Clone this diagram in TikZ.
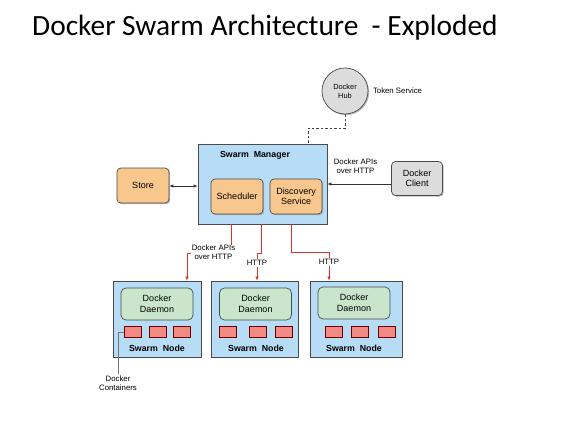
\documentclass[tikz,border=0pt]{standalone}
\usepackage{fontspec}
\setmainfont{Liberation Sans}
\newfontfamily\titlefont{Carlito}
\usetikzlibrary{arrows.meta,shadows,calc}
\definecolor{boxblue}{HTML}{B7DDF6}
\definecolor{daegreen}{HTML}{C9E6CD}
\definecolor{orng}{HTML}{F8C78E}
\definecolor{ctred}{HTML}{F28A84}
\definecolor{hubgray}{HTML}{DCDCDC}
\definecolor{edge}{HTML}{4A4A4A}
\definecolor{redline}{HTML}{D9342B}
\tikzset{
  sh/.style={drop shadow={shadow xshift=1.2pt,shadow yshift=-1.2pt,fill=black!45,opacity=0.6}},
  bluebox/.style={draw=edge,line width=0.8pt,fill=boxblue,sh,inner sep=0pt},
  orbox/.style={draw=edge,line width=0.7pt,fill=orng,rounded corners=4pt,inner sep=0pt,align=center,font=\fontsize{9}{10.5}\selectfont,sh},
  graybox/.style={draw=edge,line width=0.7pt,fill=hubgray,rounded corners=4pt,inner sep=0pt,align=center,font=\fontsize{9}{10.5}\selectfont,sh},
  daebox/.style={draw=edge,line width=0.7pt,fill=daegreen,rounded corners=5pt,inner sep=0pt,align=center,font=\fontsize{9}{11}\selectfont,minimum width=72pt,minimum height=32pt},
  ctbox/.style={draw=red!45!black,line width=0.6pt,fill=ctred,inner sep=0pt,minimum width=17pt,minimum height=11pt},
  bold/.style={font=\bfseries\fontsize{8.8}{10}\selectfont,inner sep=0pt},
  small/.style={font=\fontsize{7.8}{9}\selectfont,align=center,inner sep=1pt},
  blk/.style={-{Latex[length=4pt,width=3.5pt]},line width=0.8pt,draw=black!80},
  redarr/.style={-{Latex[length=4pt,width=3.5pt]},line width=0.7pt,draw=redline},
}
\begin{document}
\begin{tikzpicture}[x=1pt,y=-1pt]
\useasboundingbox[fill=white] (0,0) rectangle (577,423);
\node[anchor=base west,inner sep=0pt,font=\titlefont\fontsize{29.4}{33}\selectfont] (title) at (32,35) {Docker Swarm Architecture\ \ - Exploded};
% manager
\node[bluebox,minimum width=129pt,minimum height=80pt] (mgr) at (262.5,184) {};
\node[bold] (mgrl) at (255,155) {Swarm\ \ Manager};
\node[orbox,minimum width=52pt,minimum height=35pt] (sched) at (237,196.5) {Scheduler};
\node[orbox,minimum width=52pt,minimum height=35pt] (disc) at (296,196.5) {Discovery\\Service};
\node[orbox,minimum width=52pt,minimum height=35pt] (store) at (143,185.5) {Store};
\node[graybox,minimum width=51pt,minimum height=34pt] (client) at (417,178.5) {Docker\\Client};
\node[circle,draw=edge,line width=0.7pt,fill=hubgray,minimum size=46pt,inner sep=0pt,align=center,font=\fontsize{7.4}{9}\selectfont,sh] (hub) at (345,91) {Docker\\Hub};
\node[small] (token) at (397.5,91) {Token Service};
\node[small] (apis) at (355.5,166) {Docker APIs\\over HTTP};
% arrows top
\draw[blk,{Latex[length=4pt,width=3.5pt]}-{Latex[length=4pt,width=3.5pt]}] ($(store.east)+(0,0.5)$) -- ($(store.east -| mgr.west)+(0,0.5)$);
\draw[blk] ($(client.west)+(0,5.5)$) -- ($(client.west -| mgr.east)+(0,5.5)$);
\draw[dashed,line width=0.8pt,black!75,dash pattern=on 2.5pt off 2pt] (hub.south) -- ++(0,14) -| ([xshift=45.5pt]mgr.north);
% swarm nodes
\foreach \i/\cx/\w/\dx/\dy/\ca/\cb/\cc/\lx in {1/157/88/157/304/132.5/157.5/182/157, 2/254.5/87/255.5/304/227.5/257.5/283.5/256, 3/356/92/354/303/333.5/360/386.5/354}{
  \node[bluebox,minimum width=\w pt,minimum height=76pt] (n\i) at (\cx,319) {};
  \node[daebox] (d\i) at (\dx,\dy) {Docker\\Daemon};
  \node[ctbox] (c\i a) at (\ca,332) {};
  \node[ctbox] (c\i b) at (\cb,332) {};
  \node[ctbox] (c\i c) at (\cc,332) {};
  \node[bold] (l\i) at (\lx,348.5) {Swarm\ \ Node};
}
% red connectors
\draw[redarr] ([xshift=-31.5pt]mgr.south) |- ++(-44,28.5) -- ([xshift=30pt]n1.north);
\draw[redarr] ([xshift=-1.5pt]mgr.south) |- ++(-4,28.5) -- ([xshift=2.5pt]n2.north);
\draw[redarr] ([xshift=28.5pt]mgr.south) |- ++(38,28) -- ([xshift=-27pt]n3.north);
\node[small,fill=white,inner sep=0.5pt] (lab1) at (213.5,252.5) {Docker APIs\\over HTTP};
\node[small,fill=white] (lab2) at (257,263) {HTTP};
\node[small,fill=white] (lab3) at (329,262) {HTTP};
% docker containers callout
\node[small] (dc) at (118,383) {Docker\\Containers};
\draw[line width=0.6pt,black!55] (c1a.west) -| (dc.north);
\end{tikzpicture}
\end{document}
